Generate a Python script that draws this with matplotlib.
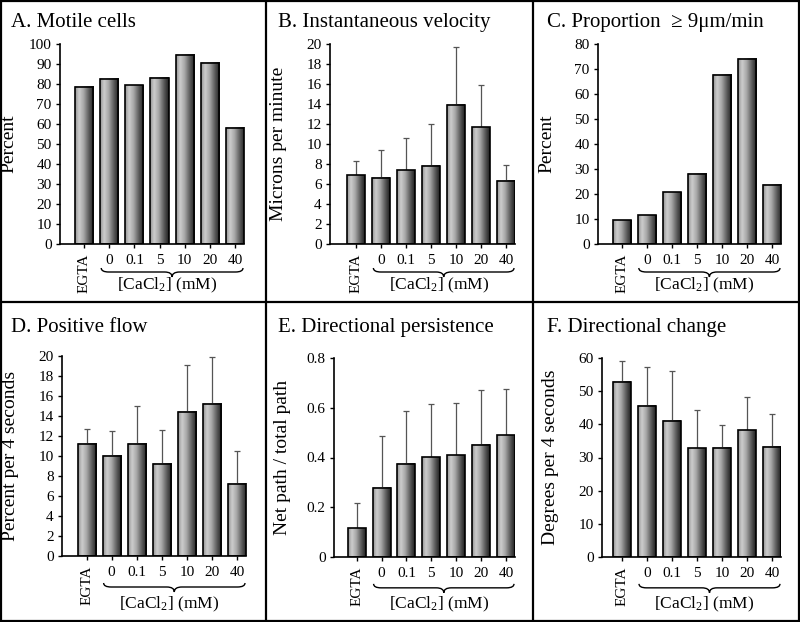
import numpy as np
import matplotlib
matplotlib.use('Agg')
import matplotlib.pyplot as plt
import matplotlib.transforms as mtransforms
from matplotlib.path import Path
from matplotlib.patches import PathPatch
from matplotlib.lines import Line2D
from matplotlib.ticker import FuncFormatter

plt.rcParams['font.family'] = ['Liberation Serif', 'DejaVu Serif']
plt.rcParams['mathtext.fontset'] = 'custom'
plt.rcParams['mathtext.rm'] = 'Liberation Serif'
plt.rcParams['mathtext.it'] = 'Liberation Serif:italic'

# data
labels = ['EGTA', '0', '0.1', '5', '10', '20', '40']

motile = [78.5, 82.5, 79.3, 83.2, 94.7, 90.7, 58.2]
velocity = [6.87, 6.63, 7.37, 7.8, 13.9, 11.67, 6.33]
velocity_sd = [1.43, 2.74, 3.2, 4.17, 5.83, 4.2, 1.54]
fast = [9.5, 11.5, 20.8, 28.0, 67.7, 74.0, 23.7]
flow = [11.25, 10.0, 11.25, 9.25, 14.4, 15.2, 7.2]
flow_sd = [1.45, 2.5, 3.8, 3.35, 4.67, 4.67, 3.3]
persist = [0.116, 0.278, 0.375, 0.402, 0.409, 0.451, 0.49]
persist_sd = [0.103, 0.208, 0.211, 0.212, 0.211, 0.219, 0.187]
dchange = [52.9, 45.6, 41.1, 32.8, 32.9, 38.2, 33.2]
dchange_sd = [6.2, 11.8, 14.9, 11.5, 7.0, 10.0, 9.9]

W, H = 800, 622
fig = plt.figure(figsize=(W / 100, H / 100), dpi=100)

# horizontal shading of the bars (light left, dark right)
pos = np.linspace(0, 1, 64)
shade = np.interp(pos, [0, 0.22, 0.45, 0.75, 1.0], [0.58, 0.80, 0.66, 0.35, 0.12])[None, :]

bw = 0.72


def brace(ax, x0, x1, y_tip, y_body, y_pt, d=0.3):
    trans = mtransforms.blended_transform_factory(ax.transData, ax.transAxes)
    xm = (x0 + x1) / 2
    verts = [(x0, y_tip), (x0, y_body), (x0 + d, y_body),
             (xm - d, y_body),
             (xm, y_body), (xm, y_pt),
             (xm, y_body), (xm + d, y_body),
             (x1 - d, y_body),
             (x1, y_body), (x1, y_tip)]
    codes = [Path.MOVETO, Path.CURVE3, Path.CURVE3,
             Path.LINETO,
             Path.CURVE3, Path.CURVE3,
             Path.CURVE3, Path.CURVE3,
             Path.LINETO,
             Path.CURVE3, Path.CURVE3]
    p = PathPatch(Path(verts, codes), transform=trans, facecolor='none',
                  edgecolor='black', lw=1.0, clip_on=False)
    ax.add_patch(p)


def panel(box, values, sd, ymax, ystep, xleft, title, title_xy, ylabel, row, fmt=None):
    l, r, t, b = box
    ax = fig.add_axes([l / W, 1 - b / H, (r - l) / W, (b - t) / H])
    x = np.arange(len(values))
    for xi, v in zip(x, values):
        ax.imshow(shade, cmap='gray', vmin=0, vmax=1, aspect='auto',
                  extent=[xi - bw / 2, xi + bw / 2, 0, v], zorder=2,
                  interpolation='bilinear')
    ax.bar(x, values, width=bw, facecolor='none', edgecolor='black',
           linewidth=1.2, zorder=3)
    if sd is not None:
        ax.errorbar(x, values, yerr=[np.zeros(len(sd)), sd], fmt='none',
                    ecolor='#555555', elinewidth=0.9, capsize=2.5,
                    capthick=0.9, zorder=1)
    ax.set_xlim(xleft, len(values) - 1 + bw / 2)
    ax.set_ylim(0, ymax)
    ax.set_yticks(np.arange(0, ymax + ystep / 2, ystep))
    if fmt is not None:
        ax.yaxis.set_major_formatter(FuncFormatter(fmt))
    ax.set_xticks(x)
    ax.set_xticklabels(labels)
    ax.get_xticklabels()[0].set_rotation(90)
    ax.tick_params(axis='both', direction='out', length=3, width=1,
                   labelsize=11, pad=3)
    ax.tick_params(axis='x', pad=4)
    for s in ['top', 'right']:
        ax.spines[s].set_visible(False)
    ax.spines['left'].set_linewidth(1.2)
    ax.spines['bottom'].set_linewidth(1.2)
    ax.set_ylabel(ylabel, fontsize=14)
    ax.yaxis.set_label_coords(-43 / (r - l), 0.5)

    if row == 0:
        brace(ax, 0.68, 6.32, -0.12, -0.14, -0.165)
        ty = -0.225
    else:
        brace(ax, 0.68, 6.32, -0.135, -0.155, -0.18)
        ty = -0.26
    trans = mtransforms.blended_transform_factory(ax.transData, ax.transAxes)
    ax.text(3.3, ty, r'[CaCl$_{\mathrm{2}}$] (mM)', transform=trans,
            ha='center', va='baseline', fontsize=12.5)
    fig.text(title_xy[0] / W, 1 - title_xy[1] / H, title, fontsize=15,
             ha='left', va='baseline')
    return ax


panel((60, 244, 44, 244), motile, None, 100, 10, -0.96,
      'A. Motile cells', (11, 27), 'Percent', 0)
panel((330, 515, 44, 244), velocity, velocity_sd, 20, 2, -1.06,
      'B. Instantaneous velocity', (278, 27), 'Microns per minute', 0)
panel((598, 781, 44, 244), fast, None, 80, 10, -0.95,
      'C. Proportion  \u2265 9\u03bcm/min', (547, 27), 'Percent', 0)
panel((62, 246, 356, 556), flow, flow_sd, 20, 2, -0.98,
      'D. Positive flow', (11, 332), 'Percent per 4 seconds', 1)
panel((334, 515, 358, 557), persist, persist_sd, 0.8, 0.2, -0.91,
      'E. Directional persistence', (278, 332), 'Net path / total path', 1,
      fmt=lambda v, p: '0' if v == 0 else '%.1f' % v)
panel((602, 781, 358, 557), dchange, dchange_sd, 60, 10, -0.8,
      'F. Directional change', (547, 332), 'Degrees per 4 seconds', 1)

# panel frame lines
def fline(x0, y0, x1, y1):
    fig.add_artist(Line2D([x0 / W, x1 / W], [1 - y0 / H, 1 - y1 / H],
                          color='black', lw=1.6))

fline(1, 0, 1, H)
fline(W - 1, 0, W - 1, H)
fline(0, 1, W, 1)
fline(0, H - 1, W, H - 1)
fline(0, 302, W, 302)
fline(266, 0, 266, H)
fline(533, 0, 533, H)

fig.savefig('out.png', dpi=100)
